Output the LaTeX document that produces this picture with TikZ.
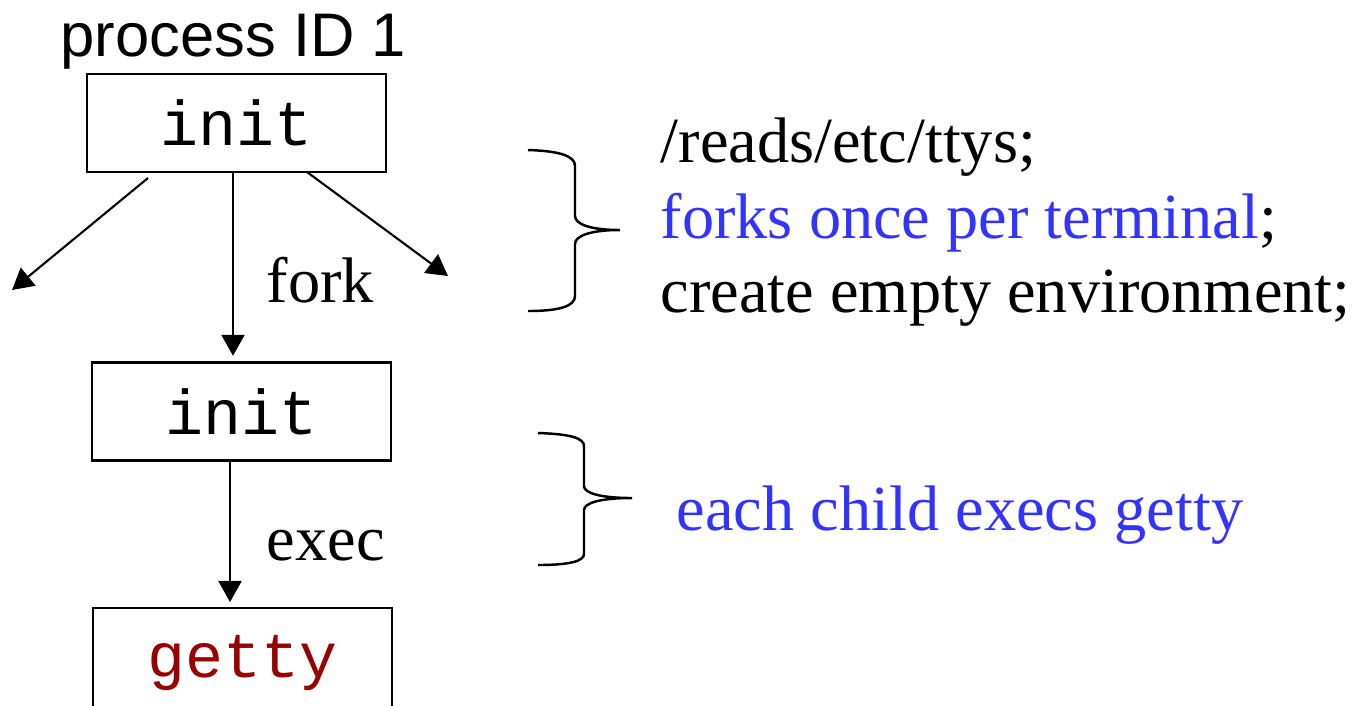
\documentclass[tikz,border=0pt]{standalone}
\usepackage{fontspec}
\setmainfont{Liberation Serif}
\newfontfamily\arialfont{Liberation Sans}
\newfontfamily\courfont{Liberation Mono}
\usetikzlibrary{arrows.meta}
\definecolor{noteblue}{HTML}{3333FF}
\definecolor{progred}{HTML}{990000}
\tikzset{
  procbox/.style={draw, line width=0.6pt, minimum width=2.99cm, minimum height=0.98cm,
    inner sep=0pt, font=\courfont\fontsize{18}{18}\selectfont},
  flow/.style={line width=0.6pt, -{Triangle[length=0.21cm,width=0.23cm]}},
  brace/.style={line width=0.7pt},
  serifnote/.style={anchor=base west, inner sep=0pt, font=\fontsize{18.3}{18.3}\selectfont},
}
\begin{document}
\begin{tikzpicture}[x=0.01cm,y=-0.01cm]
\useasboundingbox (0,0) rectangle (1352,705);
\clip (0,0) rectangle (1352,705);

% title
\node[anchor=base west, inner sep=0pt, font=\arialfont\fontsize{17.5}{17.5}\selectfont]
  (title) at (60,56) {process ID 1};

% process boxes
\node[procbox] (init1) at (236.5,123) {init};
\node[procbox] (init2) at (241.5,411.5) {init};
\node[procbox, minimum height=1.1cm, text=progred] (getty) at (242.5,663) {\raisebox{3pt}{getty}};

% fork arrows
\coordinate (lstart) at (148,178);
\coordinate (lend) at (12,290);
\coordinate (rstart) at (307,172);
\coordinate (rend) at (448,276);
\draw[flow] (lstart) -- (lend);
\draw[flow] (rstart) -- (rend);
\draw[flow, shorten >=1.6pt] (init1.south -| 233,0) -- (init2.north -| 233,0);
\draw[flow, shorten >=1.4pt] (init2.south -| 230,0) -- (getty.north -| 230,0);

\node[serifnote] (forklbl) at (266,302) {fork};
\node[serifnote] (execlbl) at (266,560) {exec};

% first brace
\draw[brace] (528,150) .. controls (560,151) and (575,156) .. (575,166)
  -- (575,216) .. controls (575,224) and (590,230) .. (620,230)
  .. controls (590,230) and (575,236) .. (575,244)
  -- (575,296) .. controls (575,306) and (560,311) .. (528,311);

\node[serifnote] (l1) at (660,162) {/reads/etc/ttys;};
\node[serifnote] (l2) at (660,238) {\textcolor{noteblue}{forks once per terminal};};
\node[serifnote] (l3) at (660,312) {create empty environment;};

% second brace
\draw[brace] (538,433) .. controls (570,434) and (584,438) .. (584,446)
  -- (584,486) .. controls (584,493) and (600,498) .. (632,498)
  .. controls (600,498) and (584,503) .. (584,510)
  -- (584,554) .. controls (584,561) and (570,565) .. (538,565);

\node[serifnote, text=noteblue] (l4) at (676,530) {each child execs getty};
\end{tikzpicture}
\end{document}
